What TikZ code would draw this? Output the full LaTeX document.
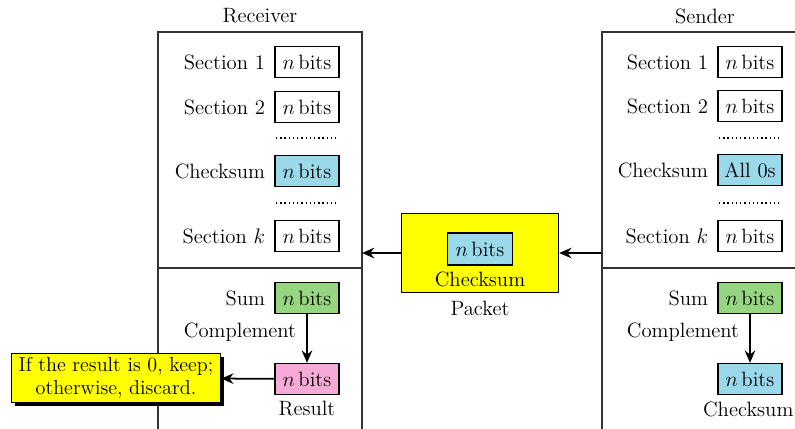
\documentclass[tikz,border=0pt]{standalone}
\usepackage{tikz}
\usetikzlibrary{positioning,arrows.meta,shadows}

\definecolor{chkblue}{RGB}{153,217,234}
\definecolor{sumgreen}{RGB}{150,214,128}
\definecolor{respink}{RGB}{247,170,216}
\definecolor{pktyellow}{RGB}{255,255,0}

\tikzset{
  frame/.style={draw, line width=0.8pt, black!80},
  bitbox/.style={draw, line width=0.8pt, minimum width=1.28cm, minimum height=0.62cm, inner sep=0pt},
  arr/.style={-{Stealth[length=7pt,width=6pt]}, line width=1pt},
  dots/.style={dash pattern=on 0.8pt off 1.6pt, line width=0.9pt}
}

\begin{document}
\begin{tikzpicture}[x=0.02cm, y=-0.02cm, font=\fontsize{11.8}{13}\selectfont]
\useasboundingbox (0,0) rectangle (795,429);

% receiver
\node (rcvtitle) at (260,16) {Receiver};
\draw[frame] (158,429) -- (158,32) -- (362,32) -- (362,429);
\draw[frame] (158,268) -- (362,268);
\node[bitbox] (r1) at (307,62) {$n$\,bits};
\node[left=0.6mm of r1] (r1l) {Section 1};
\node[bitbox] (r2) at (307,107) {$n$\,bits};
\node[left=0.6mm of r2] (r2l) {Section 2};
\draw[dots] (276,138) -- (338,138);
\node[bitbox, fill=chkblue] (rc) at (307,171) {$n$\,bits};
\node[left=0.6mm of rc] (rcl) {Checksum};
\draw[dots] (276,203) -- (338,203);
\node[bitbox] (rk) at (307,236) {$n$\,bits};
\node[left=0.6mm of rk] (rkl) {Section $k$};
\node[bitbox, fill=sumgreen] (rsum) at (307,298) {$n$\,bits};
\node[left=0.6mm of rsum] (rsuml) {Sum};
\node (rcomp) at (240,332) {Complement};
\node[bitbox, fill=respink] (rres) at (307,379) {$n$\,bits};
\node[below=0pt of rres] (rresl) {Result};
\draw[arr] (rsum) -- (rres);

% verdict
\node[draw, line width=0.8pt, fill=pktyellow, minimum width=4.18cm, minimum height=0.98cm,
      align=center, inner sep=1pt, font=\fontsize{11.5}{13}\selectfont,
      drop shadow={shadow xshift=2pt, shadow yshift=-2pt, fill=black, opacity=1}]
      (verdict) at (116,378) {If the result is 0, keep;\\ otherwise, discard.};
\draw[arr] (rres) -- (verdict);

% packet
\node[draw, line width=0.8pt, fill=pktyellow, minimum width=3.14cm, minimum height=1.58cm] (packet) at (480,253) {};
\node[bitbox, fill=chkblue, minimum width=1.3cm, minimum height=0.64cm] (pchk) at (480,249) {$n$\,bits};
\node (pchkl) at (480,279) {Checksum};
\node (pktl) at (480,308) {Packet};
\coordinate (sndedge) at (602,253);
\coordinate (rcvedge) at (362,253);
\draw[arr] (sndedge) -- (packet);
\draw[arr] (packet) -- (rcvedge);

% sender
\node (sndtitle) at (705,16) {Sender};
\draw[frame] (602,429) -- (602,32) -- (800,32);
\draw[frame] (602,268) -- (800,268);
\node[bitbox] (s1) at (750,62) {$n$\,bits};
\node[left=0.6mm of s1] (s1l) {Section 1};
\node[bitbox] (s2) at (750,106) {$n$\,bits};
\node[left=0.6mm of s2] (s2l) {Section 2};
\draw[dots] (719,138) -- (782,138);
\node[bitbox, fill=chkblue] (sc) at (750,170) {All 0s};
\node[left=0.6mm of sc] (scl) {Checksum};
\draw[dots] (719,203) -- (782,203);
\node[bitbox] (sk) at (750,236) {$n$\,bits};
\node[left=0.6mm of sk] (skl) {Section $k$};
\node[bitbox, fill=sumgreen] (ssum) at (750,298) {$n$\,bits};
\node[left=0.6mm of ssum] (ssuml) {Sum};
\node (scomp) at (683,332) {Complement};
\node[bitbox, fill=chkblue] (sres) at (750,379) {$n$\,bits};
\node[below=0pt of sres, xshift=-1pt] (sresl) {Checksum};
\draw[arr] (ssum) -- (sres);
\end{tikzpicture}
\end{document}
